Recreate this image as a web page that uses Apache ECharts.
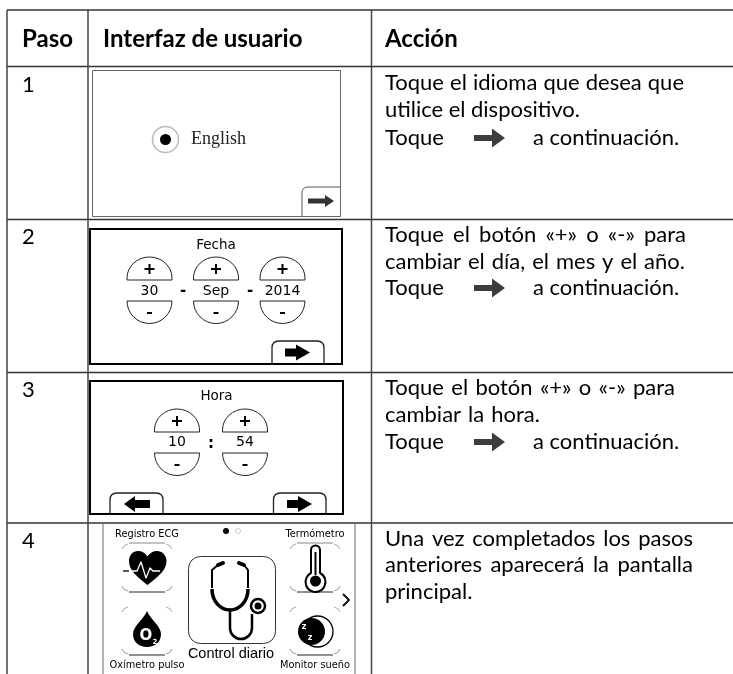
<!DOCTYPE html>
<html style="height: 100%">

<head>
  <meta charset="utf-8">
  <script type="text/javascript" src="https://cdn.jsdelivr.net/npm/echarts@6/dist/echarts.min.js"></script>
  <style>
    body { margin: 0; background: #fff; }
    #container { width: 733px; height: 674px; }
  </style>
</head>

<body>
  <div id="container"></div>
  <script type="text/javascript">
    // texts of the table
    var headers = ["Paso", "Interfaz de usuario", "Acción"];
    var steps = ["1", "2", "3", "4"];
    var action1 = ["Toque el idioma que desea que", "utilice el dispositivo."];
    var action2 = ["Toque el botón «+» o «-» para", "cambiar el día, el mes y el año."];
    var action3 = ["Toque el botón «+» o «-» para", "cambiar la hora."];
    var action4 = ["Una vez completados los pasos", "anteriores aparecerá la pantalla", "principal."];
    var nextLeft = "Toque";
    var nextRight = "a continuación.";
    var language = "English";
    var dateTitle = "Fecha";
    var dateValues = ["30", "Sep", "2014"];
    var timeTitle = "Hora";
    var timeValues = ["10", "54"];
    var menuLabels = ["Registro ECG", "Termómetro", "Oxímetro pulso", "Monitor sueño"];
    var menuCenter = "Control diario";

    var BODY = '22px Lato';
    var BOLD = 'bold 24px Lato';
    var UI = '13.5px "DejaVu Sans"';
    var out = [];

    var measure = document.createElement('canvas').getContext('2d');

    function txt(s, x, y, font, align, fill) {
      out.push({
        type: 'text',
        style: {
          text: s, x: x, y: y, font: font, fill: fill || '#000',
          align: align || 'left', verticalAlign: 'middle',
          textAlign: align || 'left', textVerticalAlign: 'middle'
        }
      });
    }
    // word by word so a line can be stretched out to the width of the original
    function just(s, x0, x1, y) {
      var words = s.split(' ');
      measure.font = BODY;
      var w = 0;
      words.forEach(function (d) { w += measure.measureText(d).width; });
      var gap = (x1 - x0 - w) / (words.length - 1 || 1);
      var x = x0;
      words.forEach(function (d) {
        txt(d, x, y, BODY);
        x += measure.measureText(d).width + gap;
      });
    }
    function path(d, fill, stroke, lw, cap) {
      out.push({
        type: 'path',
        shape: { pathData: d },
        style: { fill: fill || 'none', stroke: stroke || 'none', lineWidth: lw || 1, lineCap: cap || 'butt', lineJoin: 'round' }
      });
    }
    function line(x0, y0, x1, y1, color, lw) {
      path('M' + x0 + ' ' + y0 + 'L' + x1 + ' ' + y1, null, color || '#333', lw || 1.5);
    }
    function rect(x, y, w, h, stroke, lw, r) {
      out.push({
        type: 'rect',
        shape: { x: x, y: y, width: w, height: h, r: r || 0 },
        style: { fill: 'none', stroke: stroke, lineWidth: lw }
      });
    }
    function circle(x, y, r, fill, stroke, lw) {
      out.push({
        type: 'circle',
        shape: { cx: x, cy: y, r: r },
        style: { fill: fill || 'none', stroke: stroke || 'none', lineWidth: lw || 1 }
      });
    }
    function arrowR(x0, x1, headAt, y, sh, hh, fill) {
      path('M' + x0 + ' ' + (y - sh) + 'L' + headAt + ' ' + (y - sh) + 'L' + headAt + ' ' + (y - hh) + 'L' + x1 + ' ' + y +
        'L' + headAt + ' ' + (y + hh) + 'L' + headAt + ' ' + (y + sh) + 'L' + x0 + ' ' + (y + sh) + 'Z', fill);
    }
    function arrowL(x0, x1, headAt, y, sh, hh, fill) {
      path('M' + x1 + ' ' + (y - sh) + 'L' + headAt + ' ' + (y - sh) + 'L' + headAt + ' ' + (y - hh) + 'L' + x0 + ' ' + y +
        'L' + headAt + ' ' + (y + hh) + 'L' + headAt + ' ' + (y + sh) + 'L' + x1 + ' ' + (y + sh) + 'Z', fill);
    }
    function tab(x0, x1, yTop, yBot) {
      path('M' + x0 + ' ' + yBot + 'L' + x0 + ' ' + (yTop + 7) + 'Q' + x0 + ' ' + yTop + ' ' + (x0 + 7) + ' ' + yTop +
        'L' + (x1 - 7) + ' ' + yTop + 'Q' + x1 + ' ' + yTop + ' ' + x1 + ' ' + (yTop + 7) + 'L' + x1 + ' ' + yBot, '#fff', '#222', 1.3);
    }
    function spinner(cx, plusBase, minusTop) {
      var r = 22.5;
      path('M' + (cx - r) + ' ' + plusBase + 'L' + (cx - r) + ' ' + (plusBase - 2) + 'A' + r + ' ' + (r - 1.5) + ' 0 0 1 ' + (cx + r) + ' ' + (plusBase - 2) +
        'L' + (cx + r) + ' ' + plusBase + 'Z', null, '#222', 1);
      path('M' + (cx - r) + ' ' + minusTop + 'L' + (cx + r) + ' ' + minusTop + 'A' + r + ' ' + r + ' 0 0 1 ' + (cx - r) + ' ' + minusTop + 'Z', null, '#222', 1);
      path('M' + (cx - 5) + ' ' + (plusBase - 11) + 'L' + (cx + 5) + ' ' + (plusBase - 11) + 'M' + cx + ' ' + (plusBase - 16) + 'L' + cx + ' ' + (plusBase - 6), null, '#000', 2);
      path('M' + (cx - 2.5) + ' ' + (minusTop + 12) + 'L' + (cx + 2.5) + ' ' + (minusTop + 12), null, '#000', 2);
    }
    function iconFrame(cx, yTop, yBot, topDark) {
      line(cx - 18, yBot, cx + 18, yBot, '#222', 1);
      line(cx - 18, yTop, cx + 18, yTop, topDark ? '#888' : '#fff', 1);
      [-1, 1].forEach(function (s) {
        path('M' + (cx + s * 19) + ' ' + (yBot - 1) + 'Q' + (cx + s * 24) + ' ' + (yBot - 2) + ' ' + (cx + s * 25) + ' ' + (yBot - 6), null, '#999', 1);
        path('M' + (cx + s * 19) + ' ' + (yTop + 1) + 'Q' + (cx + s * 24) + ' ' + (yTop + 2) + ' ' + (cx + s * 25) + ' ' + (yTop + 6), null, '#aaa', 1);
      });
    }

    function buildTable() {
      // grid lines
      var hs = [10, 66.5, 219.5, 372.5, 523];
      hs.forEach(function (y) { line(7, y, 733, y, '#333', 1.5); });
      [7, 88, 371.5].forEach(function (x) { line(x, 10, x, 674, '#444', 1.5); });

      // header
      txt(headers[0], 22, 39, BOLD);
      txt(headers[1], 103, 39, BOLD);
      txt(headers[2], 385, 39, BOLD);

      // step numbers
      txt(steps[0], 22, 85, BODY);
      txt(steps[1], 22, 237, BODY);
      txt(steps[2], 22, 390, BODY);
      txt(steps[3], 22, 541, BODY);

      // action column
      just(action1[0], 385, 684, 83);
      just(action1[1], 385, 580, 110);
      just(action2[0], 385, 686, 235);
      just(action2[1], 385, 685, 262);
      just(action3[0], 385, 675, 388);
      just(action3[1], 385, 540, 415);
      just(action4[0], 385, 693, 539);
      just(action4[1], 385, 693, 565);
      just(action4[2], 385, 473, 592);
      [138, 288, 442].forEach(function (y) {
        txt(nextLeft, 385, y, BODY);
        txt(nextRight, 533, y, BODY);
        arrowR(474, 505, 492, y, 3, 9.5, '#3d3d3d');
      });

      // step 1 screen
      rect(92.5, 70.5, 248, 146, '#666', 1);
      circle(165.5, 139.5, 13, '#fff', '#bbb', 1.5);
      circle(165.5, 139.5, 5.5, '#000');
      txt(language, 191, 139.5, '18px "Liberation Serif"', 'left', '#222');
      path('M302 216L302 193Q302 187 308 187L340 187', null, '#555', 1);
      arrowR(308, 334, 325, 201, 2.5, 6, '#333');

      // step 2 screen
      rect(90, 229, 252, 135, '#000', 2);
      txt(dateTitle, 216, 245, UI, 'center');
      [149.5, 216, 282.5].forEach(function (cx, i) {
        spinner(cx, 280, 301);
        txt(dateValues[i], cx, 291, '14px "DejaVu Sans"', 'center');
      });
      txt('-', 183, 291, 'bold 15px "DejaVu Sans"', 'center');
      txt('-', 250, 291, 'bold 15px "DejaVu Sans"', 'center');
      tab(272, 324, 341, 363);
      arrowR(285, 310, 296, 352.5, 4, 8, '#000');

      // step 3 screen
      rect(90, 381, 253, 133, '#000', 2);
      txt(timeTitle, 216.5, 396, UI, 'center');
      [177, 245].forEach(function (cx, i) {
        spinner(cx, 432, 453);
        txt(timeValues[i], cx, 442.5, '14px "DejaVu Sans"', 'center');
      });
      txt(':', 211, 444, 'bold 15px "DejaVu Sans"', 'center');
      tab(110, 163, 493, 513);
      arrowL(124, 150, 135, 504, 4, 8, '#000');
      tab(273.5, 326, 493, 513);
      arrowR(287, 312, 298, 504, 4, 8, '#000');

      // step 4 screen
      line(103, 523, 103, 674, '#666', 1);
      line(355, 523, 355, 674, '#666', 1);
      circle(226, 531, 3, '#000');
      circle(238, 531, 2.5, null, '#ccc', 1);
      var small = '9.8px "DejaVu Sans"';
      txt(menuLabels[0], 147, 534, small, 'center', '#000');
      txt(menuLabels[1], 315, 534, small, 'center', '#000');
      txt(menuLabels[2], 147, 665, small, 'center', '#000');
      txt(menuLabels[3], 315, 665, small, 'center', '#000');
      txt(menuCenter, 231, 654, '14.5px "Liberation Sans"', 'center', '#000');
      path('M343 594L349 600L343 606', null, '#111', 2);

      // heart
      iconFrame(147, 543, 592, true);
      path('M147.5 585C136 576 129 570 129 561C129 555 133 551 138 551C142 551 145.5 553 147.5 556.5C149.5 553 153 551 157 551C162 551 166.5 555 166.5 561C166.5 570 159 576 147.5 585Z', '#000');
      path('M129 571L137 571L141 562L146 578L150 568L153 571L160 571', null, '#fff', 1.3);
      line(123, 571, 129, 571, '#000', 1.3);

      // drop
      iconFrame(147, 606, 655, false);
      path('M147 611C150 619 161 626 161 634C161 642 155 647 147 647C139 647 133 642 133 634C133 626 144 619 147 611Z', '#000');
      txt('O', 146, 636, 'bold 15px "DejaVu Sans"', 'center', '#fff');
      txt('2', 155, 642, 'bold 7px "DejaVu Sans"', 'center', '#fff');

      // stethoscope
      rect(188.5, 556.5, 87, 87, '#333', 1, 12);
      path('M223 563L218 565', null, '#000', 4, 'round');
      path('M239 563L244 565', null, '#000', 4, 'round');
      path('M218 565L212 570L212 588', null, '#000', 2);
      path('M244 565L248 570L248 588', null, '#000', 2);
      path('M212 589C212 602 221 610 230 610C239 610 248 602 248 589', null, '#000', 3.5);
      path('M230 610L230 628C230 634 235 639 241 639C247 639 252 634 252 628L252 614', null, '#000', 2.5);
      circle(258, 606, 7, '#fff', '#000', 2.5);
      circle(258, 606, 3.5, '#000');

      // thermometer
      iconFrame(315, 543, 592, true);
      path('M311 573L311 550A4.5 4.5 0 0 1 320 550L320 573A10 10 0 1 1 311 573Z', '#fff', '#000', 2);
      line(315.5, 552, 315.5, 575, '#000', 2);
      circle(315.5, 581, 5.5, '#000');

      // moon
      iconFrame(315, 606, 655, false);
      circle(317.5, 631.5, 15.5, '#fff', '#000', 1.3);
      circle(311.5, 631.5, 13.5, '#000');
      txt('z', 304, 627, 'bold 8px "DejaVu Sans"', 'center', '#fff');
      txt('z', 310, 638, 'bold 8px "DejaVu Sans"', 'center', '#fff');
    }
    buildTable();

    var myChart = echarts.init(document.getElementById("container"));
    myChart.setOption({
      animation: false,
      backgroundColor: '#fff',
      series: [{
        type: 'custom',
        coordinateSystem: 'none',
        silent: true,
        data: [[0]],
        renderItem: function () {
          return { type: 'group', children: out };
        }
      }]
    });
  </script>
</body>

</html>
